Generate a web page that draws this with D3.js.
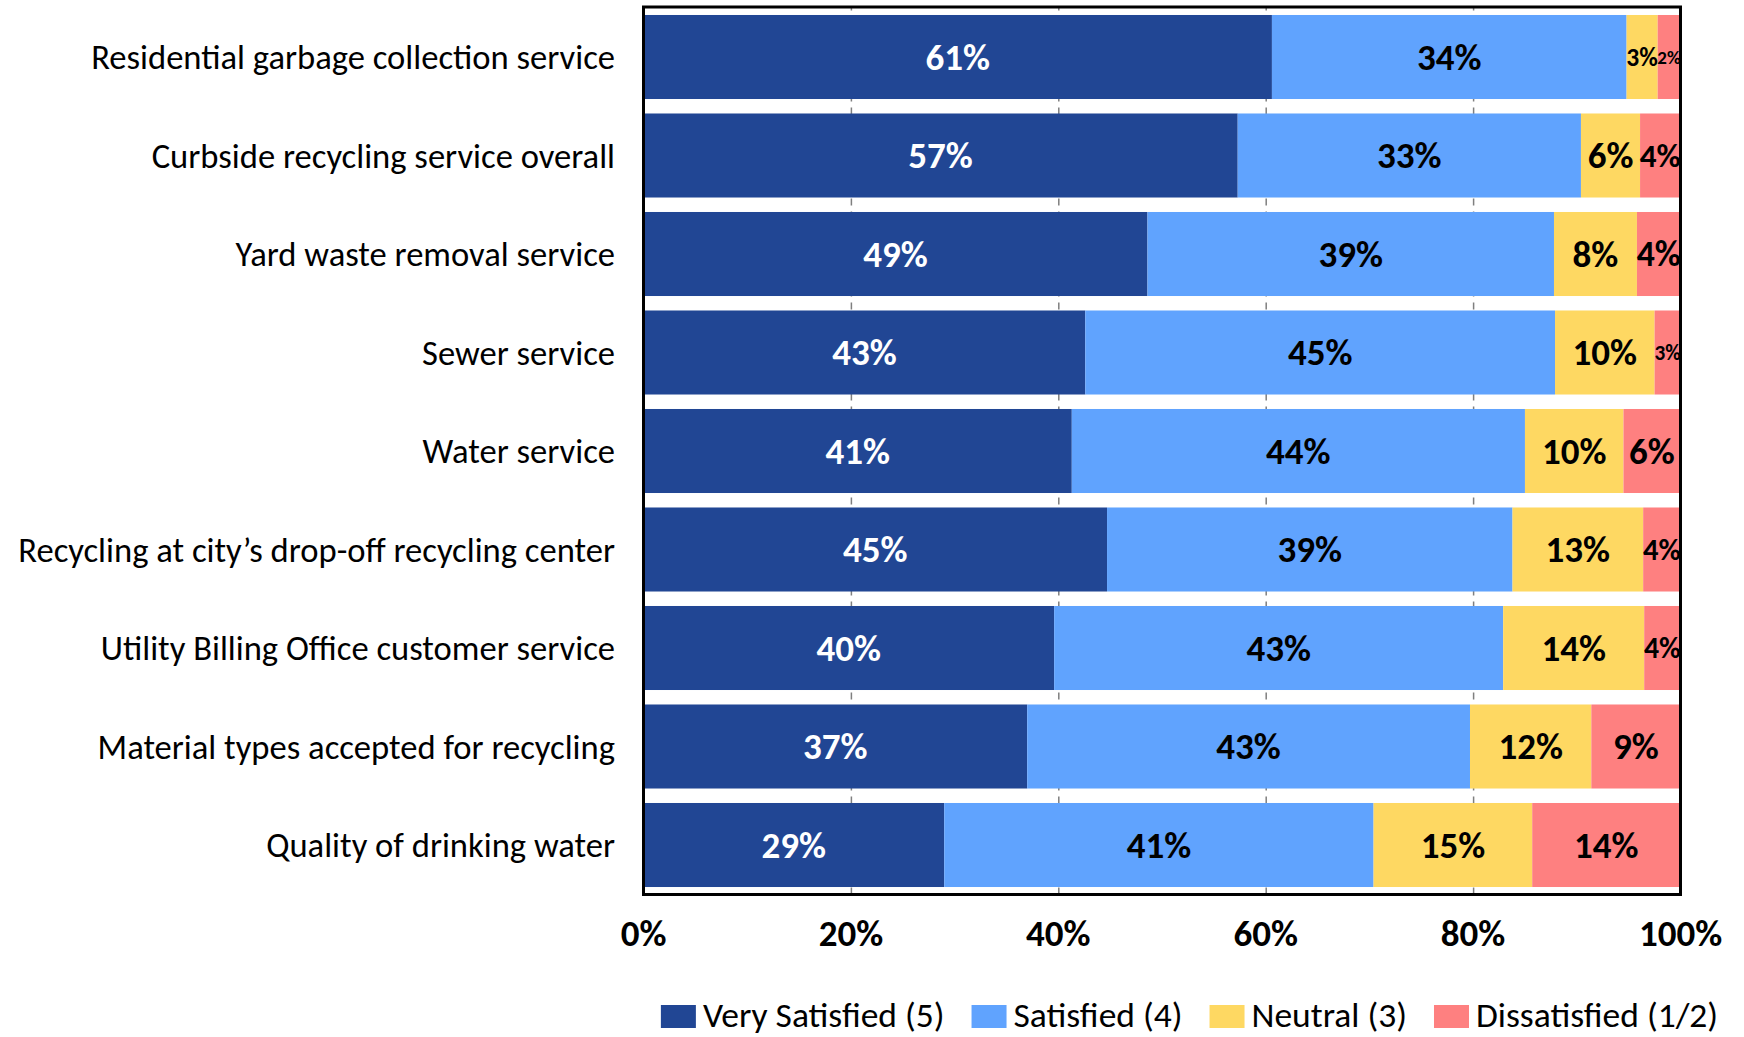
<!DOCTYPE html>
<html>
<head>
<meta charset="utf-8">
<script src="https://cdn.jsdelivr.net/npm/d3@7"></script>
<style>
  html, body { margin: 0; padding: 0; background: #fff; }
  svg { display: block; }
  text { font-family: Carlito, Calibri, Lato, "Noto Sans", sans-serif; }
</style>
</head>
<body>
<svg id="chart" width="1744" height="1037"></svg>
<script>
const categories = [
  "Residential garbage collection service",
  "Curbside recycling service overall",
  "Yard waste removal service",
  "Sewer service",
  "Water service",
  "Recycling at city\u2019s drop-off recycling center",
  "Utility Billing Office customer service",
  "Material types accepted for recycling",
  "Quality of drinking water"
];
const seriesNames = ["Very Satisfied (5)", "Satisfied (4)", "Neutral (3)", "Dissatisfied (1/2)"];
const verySatisfied = [60.6, 57.3, 48.6, 42.6, 41.3, 44.7, 39.6, 37.0, 29.0];
const satisfied     = [34.2, 33.1, 39.2, 45.3, 43.7, 39.1, 43.3, 42.7, 41.4];
const neutral       = [3.0, 5.7, 8.0, 9.6, 9.5, 12.6, 13.6, 11.7, 15.3];
const dissatisfied  = [2.2, 3.9, 4.2, 2.5, 5.5, 3.6, 3.5, 8.6, 14.3];
const xTicks = [0, 20, 40, 60, 80, 100];

const colors = ["#214694", "#60A3FE", "#FED862", "#FE8080"];
const labelColors = ["#FFFFFF", "#000000", "#000000", "#000000"];

(function () {
const svg = d3.select("#chart");
const pLeft = 643.5, pRight = 1680.5, pTop = 7, pBottom = 894.5;

const x = d3.scaleLinear().domain([0, 100]).range([pLeft, pRight]);
const y = d3.scaleBand().domain(categories).range([7.75, 894.25])
  .paddingInner(0.147).paddingOuter(0.0735);

const rows = categories.map((c, i) => ({
  cat: c,
  vals: [verySatisfied[i], satisfied[i], neutral[i], dissatisfied[i]]
}));
const segs = [];
rows.forEach(r => {
  let acc = 0;
  r.vals.forEach((v, k) => {
    segs.push({ cat: r.cat, k, x0: acc, x1: acc + v, v });
    acc += v;
  });
});

// gridlines (dashed, behind bars)
svg.append("g")
  .attr("transform", `translate(0,${pBottom})`)
  .call(d3.axisBottom(x).tickValues(xTicks.filter(t => t > 0 && t < 100))
    .tickSize(-(pBottom - pTop)).tickFormat(""))
  .call(g => g.select(".domain").remove())
  .call(g => g.selectAll("line").attr("stroke", "#7f7f7f").attr("stroke-width", 1.5)
    .attr("stroke-dasharray", "7,6"));

// bars
svg.append("g").selectAll("rect").data(segs).join("rect")
  .attr("x", d => x(d.x0))
  .attr("y", d => y(d.cat))
  .attr("width", d => x(d.x1) - x(d.x0))
  .attr("height", y.bandwidth())
  .attr("fill", d => colors[d.k]);

// value labels
svg.append("g").selectAll("text").data(segs).join("text")
  .attr("x", d => (x(d.x0) + x(d.x1)) / 2)
  .attr("y", d => y(d.cat) + y.bandwidth() / 2)
  .attr("text-anchor", "middle")
  .attr("dominant-baseline", "central")
  .attr("font-weight", "bold")
  .attr("font-size", d => {
    const w = x(d.x1) - x(d.x0);
    return Math.max(19, Math.min(37, w * 0.82)) + "px";
  })
  .attr("fill", d => labelColors[d.k])
  .text(d => Math.round(d.v) + "%");

// frame
svg.append("rect")
  .attr("x", pLeft).attr("y", pTop)
  .attr("width", pRight - pLeft).attr("height", pBottom - pTop)
  .attr("fill", "none").attr("stroke", "#000").attr("stroke-width", 3);

// category axis labels
svg.append("g").selectAll("text").data(categories).join("text")
  .attr("x", 615)
  .attr("y", d => y(d) + y.bandwidth() / 2)
  .attr("text-anchor", "end")
  .attr("dominant-baseline", "central")
  .attr("font-size", "34.6px")
  .attr("fill", "#000")
  .text(d => d);

// x tick labels
svg.append("g").selectAll("text").data(xTicks).join("text")
  .attr("x", d => x(d))
  .attr("y", 946)
  .attr("text-anchor", "middle")
  .attr("font-weight", "bold")
  .attr("font-size", "37px")
  .attr("fill", "#000")
  .text(d => d + "%");

// legend
const lg = svg.append("g");
const items = lg.selectAll("g").data(seriesNames).join("g");
items.append("rect").attr("width", 35).attr("height", 23).attr("y", 1005)
  .attr("fill", (d, i) => colors[i]);
items.append("text").attr("x", 42).attr("y", 1015)
  .attr("dominant-baseline", "central")
  .attr("font-size", "35.5px").attr("fill", "#000")
  .text(d => d);
let cx = 0;
const offs = [];
items.each(function () {
  offs.push(cx);
  const tw = d3.select(this).select("text").node().getComputedTextLength();
  cx += 42 + tw + 27;
});
const total = cx - 27;
const startX = 1189.5 - total / 2;
items.attr("transform", (d, i) => `translate(${startX + offs[i]},0)`);
})();
</script>
</body>
</html>
